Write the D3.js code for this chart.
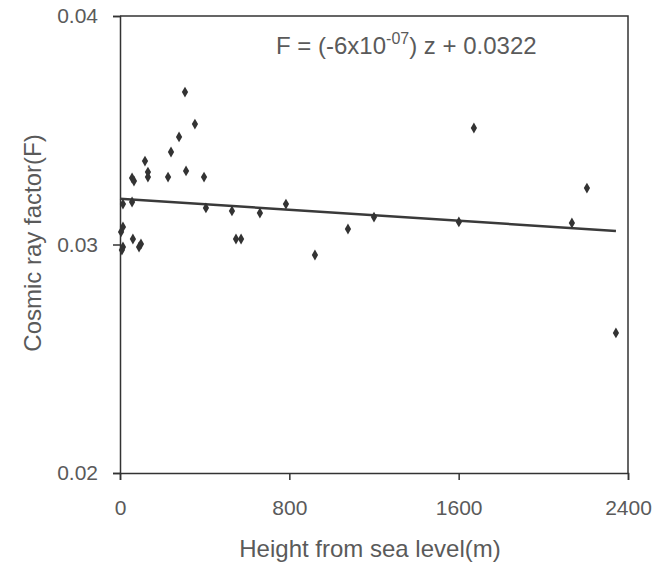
<!DOCTYPE html>
<html>
<head>
<meta charset="utf-8">
<script src="https://cdn.jsdelivr.net/npm/d3@7"></script>
<style>
  body { margin: 0; background: #fff; }
  text { font-family: "Liberation Sans", Arial, sans-serif; fill: #5a5a5a; }
</style>
</head>
<body>
<div id="chart"></div>
<script>
// heights (m) and cosmic ray factor
const heights = [307, 354, 279, 241, 118, 132, 132, 57, 66, 227, 312, 397,
  14, 57, 406, 529, 661, 784, 14, 5, 61, 99, 90, 14, 9, 548, 572, 921,
  1672, 2206, 1077, 1200, 1601, 2135, 2343];
const factors = [0.03667, 0.03527, 0.03471, 0.03405, 0.03365, 0.03317, 0.03295, 0.03291, 0.03278, 0.03295, 0.03322, 0.03295,
  0.03177, 0.03186, 0.0316, 0.03147, 0.03138, 0.03177, 0.03077, 0.03055, 0.03024, 0.03002, 0.02989, 0.02989, 0.02976, 0.03024, 0.03024, 0.02954,
  0.0351, 0.03247, 0.03068, 0.0312, 0.03099, 0.03094, 0.02613];

// trend line F = slope*z + intercept (as drawn)
const trendSlope = -6e-7;
const trendIntercept = 0.0320;

const xTicks = [0, 800, 1600, 2400];
const yTicks = [0.02, 0.03, 0.04];

const W = 657, H = 565;
const margin = {left: 120, right: 29, top: 16, bottom: 92};

const svg = d3.select("#chart").append("svg")
  .attr("width", W)
  .attr("height", H);

const x = d3.scaleLinear().domain([0, 2400]).range([margin.left, W - margin.right]);
const y = d3.scaleLinear().domain([0.02, 0.04]).range([H - margin.bottom, margin.top]);

const ink = "#333";

// frame (top and right)
svg.append("path")
  .attr("d", `M${x(0)},${y(0.04)}H${x(2400)}V${y(0.02)}`)
  .attr("fill", "none")
  .attr("stroke", ink)
  .attr("stroke-width", 1.5);

// x axis
const xAxis = svg.append("g")
  .attr("transform", `translate(0,${y(0.02)})`)
  .call(d3.axisBottom(x).tickValues(xTicks).tickSize(7).tickPadding(20).tickFormat(d3.format("d")));

// y axis
const yAxis = svg.append("g")
  .attr("transform", `translate(${x(0)},0)`)
  .call(d3.axisLeft(y).tickValues(yTicks).tickSize(7).tickPadding(15).tickFormat(d3.format(".2f")));

[xAxis, yAxis].forEach(g => {
  g.select(".domain").attr("stroke", ink).attr("stroke-width", 1.5);
  g.selectAll(".tick line").attr("stroke", ink).attr("stroke-width", 1.5);
  g.selectAll(".tick text")
    .attr("fill", "#5a5a5a")
    .style("font-size", "21px")
    .style("font-family", "'Liberation Sans', Arial, sans-serif");
});

// trend line
const trendX = [0, d3.max(heights)];
svg.append("line")
  .attr("x1", x(trendX[0]))
  .attr("y1", y(trendIntercept + trendSlope * trendX[0]))
  .attr("x2", x(trendX[1]))
  .attr("y2", y(trendIntercept + trendSlope * trendX[1]))
  .attr("stroke", "#3a3a3a")
  .attr("stroke-width", 2.5);

// points (diamonds)
const diamond = d3.symbol().type(d3.symbolDiamond).size(34);
svg.selectAll("path.pt")
  .data(heights.map((h, i) => [h, factors[i]]))
  .enter().append("path")
  .attr("class", "pt")
  .attr("d", diamond)
  .attr("transform", d => `translate(${x(d[0])},${y(d[1])})`)
  .attr("fill", ink);

// equation
const eq = svg.append("text")
  .attr("x", 276)
  .attr("y", 54)
  .style("font-size", "24px");
eq.append("tspan").text("F = (-6x10");
eq.append("tspan").attr("dy", -10).style("font-size", "16px").text("-07");
eq.append("tspan").attr("dy", 10).text(") z + 0.0322");

// axis titles
svg.append("text")
  .attr("x", 370)
  .attr("y", 557)
  .attr("text-anchor", "middle")
  .style("font-size", "24px")
  .text("Height from sea level(m)");

svg.append("text")
  .attr("transform", "translate(41,243) rotate(-90)")
  .attr("text-anchor", "middle")
  .style("font-size", "24px")
  .text("Cosmic ray factor(F)");
</script>
</body>
</html>
